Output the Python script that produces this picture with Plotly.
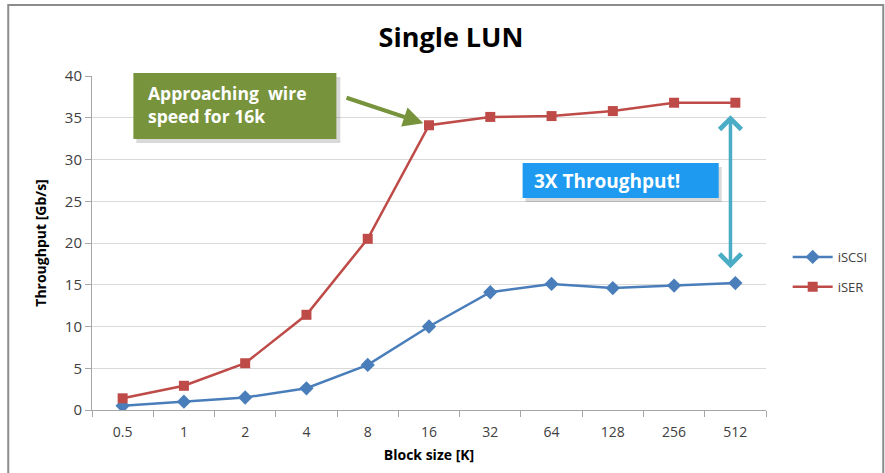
import plotly.graph_objects as go

block_sizes = ["0.5", "1", "2", "4", "8", "16", "32", "64", "128", "256", "512"]
iscsi = [0.5, 1.0, 1.5, 2.6, 5.4, 10.0, 14.1, 15.1, 14.6, 14.9, 15.2]
iser = [1.4, 2.9, 5.6, 11.4, 20.5, 34.1, 35.1, 35.2, 35.8, 36.8, 36.8]
y_ticks = [0, 5, 10, 15, 20, 25, 30, 35, 40]

W, H = 885, 473
L, R, T, B = 92, 109, 76, 63
pw, ph = W - L - R, H - T - B


def px(x):
    return (x - L) / pw


def py(y):
    return 1 - (y - T) / ph


fig = go.Figure()
fig.add_trace(go.Scatter(
    x=block_sizes, y=iscsi, name="iSCSI", mode="lines+markers", legendgroup="a",
    line=dict(color="#4A7EBB", width=2.5),
    marker=dict(symbol="diamond", size=11, color="#4A7EBB"),
))
fig.add_trace(go.Scatter(
    x=block_sizes, y=iser, name="iSER", mode="lines+markers", legendgroup="b",
    line=dict(color="#BE4B48", width=2.5),
    marker=dict(symbol="square", size=10, color="#BE4B48"),
))

font = "'Open Sans', sans-serif"
shapes = [
    # outer frame
    dict(type="rect", xref="paper", yref="paper",
         x0=px(7), x1=px(W + 10), y0=py(H + 10), y1=py(5),
         line=dict(color="#8C8C8C", width=2), fillcolor="rgba(0,0,0,0)", layer="below"),
    # callout shadows
    dict(type="rect", xref="paper", yref="paper",
         x0=px(137), x1=px(344), y0=py(143), y1=py(77),
         line=dict(width=0), fillcolor="rgba(0,0,0,0.15)"),
    dict(type="rect", xref="paper", yref="paper",
         x0=px(532), x1=px(731), y0=py(202), y1=py(167),
         line=dict(width=0), fillcolor="rgba(0,0,0,0.15)"),
    dict(type="rect", xref="paper", yref="paper",
         x0=px(134), x1=px(340), y0=py(139), y1=py(73),
         line=dict(width=0), fillcolor="#77933C"),
    dict(type="rect", xref="paper", yref="paper",
         x0=px(529), x1=px(728), y0=py(198), y1=py(163),
         line=dict(width=0), fillcolor="#1E9BF0"),
]

i16 = block_sizes.index("16")
i512 = block_sizes.index("512")

annotations = [
    dict(xref="paper", yref="paper", x=px(147), y=py(105), xanchor="left", yanchor="middle",
         text="<b>Approaching  wire<br>speed for 16k</b>", align="left", showarrow=False,
         font=dict(family=font, size=17.5, color="white")),
    dict(xref="paper", yref="paper", x=px(539), y=py(181), xanchor="left", yanchor="middle",
         text="<b>3X Throughput!</b>", align="left", showarrow=False,
         font=dict(family=font, size=19, color="white")),
    # green pointer to the 16k point
    dict(x=i16, y=iser[i16], xref="x", yref="y", ax=-84, ay=-28, text="",
         showarrow=True, arrowhead=2, arrowsize=1, arrowwidth=4, arrowcolor="#77933C",
         standoff=6),
    # double-headed arrow between the two series at 512
    dict(x=i512 - 0.08, y=35.3, xref="x", yref="y", ax=i512 - 0.08, ay=16.8,
         axref="x", ayref="y",
         text="", showarrow=True, arrowhead=4, startarrowhead=4, arrowside="end+start",
         arrowsize=1.2, startarrowsize=1.2, arrowwidth=3.5, arrowcolor="#4BACC6"),
]

fig.update_layout(
    width=W, height=H,
    margin=dict(l=L, r=R, t=T, b=B),
    paper_bgcolor="white", plot_bgcolor="white",
    title=dict(text="<b>Single LUN</b>", xref="container", yref="container",
               x=451 / W, xanchor="center", y=1 - 38 / H, yanchor="middle",
               font=dict(family=font, size=27, color="black")),
    font=dict(family=font, size=13, color="#595959"),
    showlegend=True,
    legend=dict(x=px(798), y=py(242), xanchor="left", yanchor="top",
                font=dict(family=font, size=13, color="#404040"),
                bgcolor="rgba(0,0,0,0)", tracegroupgap=10, itemwidth=40),
    xaxis=dict(
        type="category", categoryorder="array", categoryarray=block_sizes,
        showgrid=False, showline=True, linecolor="#A6A6A6", linewidth=1,
        ticks="outside", tickson="boundaries", ticklen=6, tickcolor="#A6A6A6",
        ticklabelstandoff=9,
        tickfont=dict(family=font, size=14, color="#404040"),
        title=dict(text="<b>Block size [K]</b>", standoff=10,
                   font=dict(family=font, size=14, color="black")),
        range=[-0.5, 10.5], zeroline=False,
    ),
    yaxis=dict(
        range=[0, 40], tickvals=y_ticks, showgrid=True, gridcolor="#D9D9D9", gridwidth=1,
        showline=True, linecolor="#A6A6A6", linewidth=1, zeroline=False,
        ticks="outside", ticklen=6, tickcolor="#A6A6A6",
        tickfont=dict(family=font, size=15, color="#404040"),
        title=dict(text="<b>Throughput [Gb/s]</b>", standoff=14,
                   font=dict(family=font, size=14, color="black")),
    ),
    shapes=shapes,
    annotations=annotations,
)

fig.write_html("out.html")
